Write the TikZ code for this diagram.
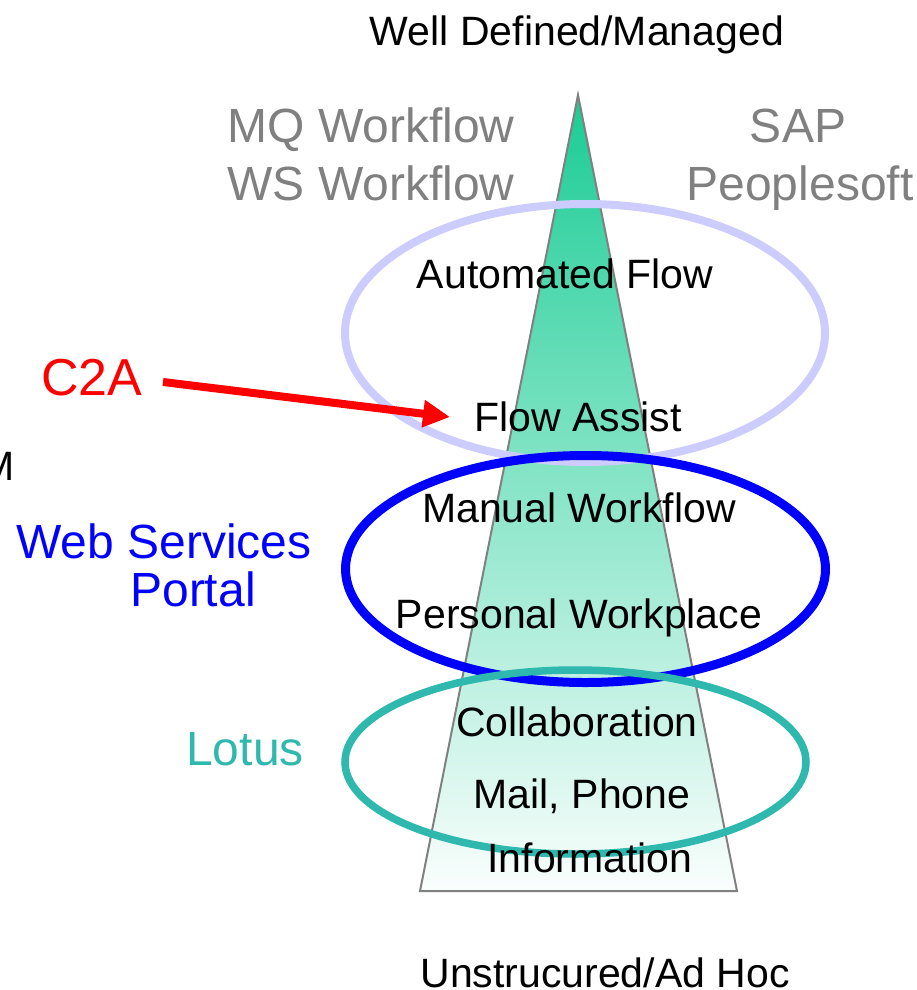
\documentclass[tikz,border=0pt]{standalone}
\usepackage{fontspec}
\setmainfont{Liberation Sans}
\usetikzlibrary{arrows.meta}
\definecolor{txtgray}{RGB}{128,128,128}
\definecolor{lav}{RGB}{204,204,255}
\definecolor{pblue}{RGB}{0,0,255}
\definecolor{teal2}{RGB}{46,184,174}
\definecolor{topgreen}{RGB}{26,204,148}
\definecolor{botgreen}{RGB}{250,254,253}
\tikzset{
  lbl/.style={inner sep=0pt, anchor=base, font=\fontsize{41}{49}\selectfont, text=black},
  glbl/.style={inner sep=0pt, anchor=base, font=\fontsize{48}{57}\selectfont, text=txtgray},
  bigl/.style={inner sep=0pt, anchor=base, font=\fontsize{48}{57}\selectfont},
  ring/.style={line width=#1},
}
\begin{document}
\begin{tikzpicture}[x=1pt,y=-1pt]
\useasboundingbox (0,0) rectangle (917,990);
% pyramid
\shade[top color=topgreen, bottom color=botgreen] (578,95) -- (737,891) -- (420,891) -- cycle;
\draw[txtgray, line width=2pt, line join=miter] (578,95) -- (737,891) -- (420,891) -- cycle;
% ellipses
\draw[lav, line width=8pt] (585,333) ellipse [x radius=240pt, y radius=129pt];
\draw[pblue, line width=9pt] (585.5,569) ellipse [x radius=240pt, y radius=113.5pt];
\draw[teal2, line width=7.5pt] (575.5,762) ellipse [x radius=230.5pt, y radius=92pt];
% labels
\node[lbl] (top) at (577,46) {Well Defined/Managed};
\node[lbl] (bot) at (605,987) {Unstrucured/Ad Hoc};
\node[glbl] (mq) at (371,142) {MQ Workflow};
\node[glbl] (ws) at (371,200) {WS Workflow};
\node[glbl] (sap) at (798,142) {SAP};
\node[glbl] (ps) at (800,200) {Peoplesoft};
\node[lbl] (auto) at (565,288) {Automated Flow};
\node[lbl] (flow) at (578,431) {Flow Assist};
\node[lbl] (manual) at (579,522) {Manual Workflow};
\node[lbl] (personal) at (579,628) {Personal Workplace};
\node[lbl] (collab) at (577,736) {Collaboration};
\node[lbl] (mail) at (582,808) {Mail, Phone};
\node[lbl] (info) at (590,872) {Information};
\node[lbl, anchor=base east] (m) at (15,480) {M};
\node[bigl, text=red, font=\fontsize{52}{62}\selectfont] (c2a) at (92,395) {C2A};
\node[bigl, text=pblue] (wsv) at (164,558) {Web Services};
\node[bigl, text=pblue] (portal) at (193,606) {Portal};
\node[bigl, text=teal2] (lotus) at (245,765) {Lotus};
% arrow
\draw[red, line width=8pt, -{Triangle[length=27pt, width=26pt]}]
  ([shift={(71,-13)}]c2a.base) -- ([shift={(-128,-14)}]flow.base);
\end{tikzpicture}
\end{document}
